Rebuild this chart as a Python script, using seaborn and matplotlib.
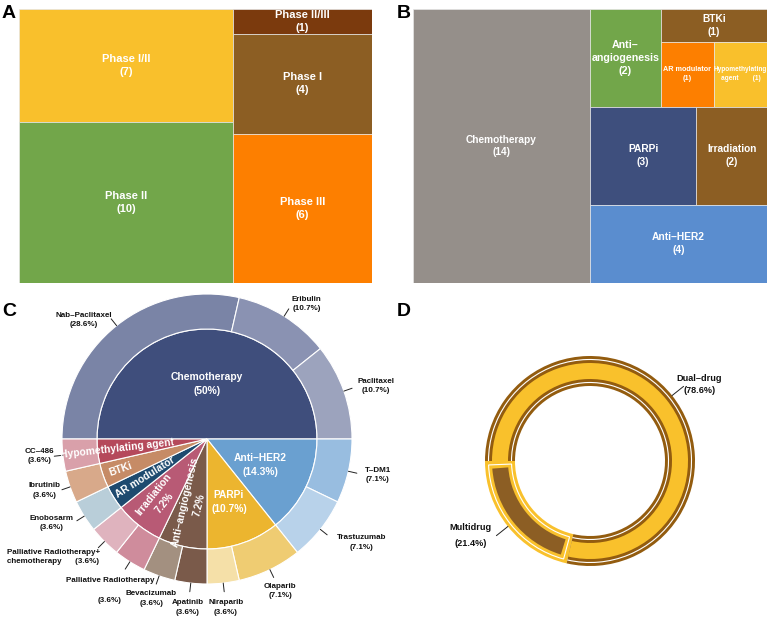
import numpy as np
import matplotlib
matplotlib.use("Agg")
import matplotlib.pyplot as plt
from matplotlib.patches import Rectangle, Arc
import seaborn as sns

sns.set_theme(style="white")
plt.rcParams['font.family'] = ['Liberation Sans', 'DejaVu Sans']

# ---------------- Panel A data ----------------
phase_labels = ["Phase I/II", "Phase II", "Phase II/III", "Phase I", "Phase III"]
phase_counts = [7, 10, 1, 4, 6]
phase_colors = ["#f9c02c", "#72a64a", "#7b3a0d", "#8c5e23", "#fd7f00"]
phase_layout = [[0, 1], [2, 3, 4]]

# ---------------- Panel B data ----------------
class_labels = ["Chemotherapy", "Anti–\nangiogenesis", "BTKi", "AR modulator",
                "Hypomethylating\nagent", "PARPi", "Irradiation", "Anti–HER2"]
class_counts = [14, 2, 1, 1, 1, 3, 2, 4]
class_colors = ["#958f8a", "#72a64a", "#8c5e23", "#fd7f00", "#f9c02c",
                "#3e4f7d", "#8c5e23", "#5a8dcf"]
class_layout = [0, [[1, [2, [3, 4]]], [5, 6], 7]]
class_fontsizes = [7.3, 7.7, 7.3, 5.2, 4.7, 7.4, 7.3, 7.4]

# ---------------- Panel C data ----------------
inner_labels = ["Chemotherapy", "Anti–HER2", "PARPi", "Anti–angiogenesis",
                "Irradiation", "AR modulator", "BTKi", "Hypomethylating agent"]
inner_counts = [14, 4, 3, 2, 2, 1, 1, 1]
inner_pct = ["(50%)", "(14.3%)", "(10.7%)", "7.2%", "7.2%", "", "", ""]
inner_colors = ["#3f4e7c", "#6aa0d0", "#ecb52f", "#7a5a4a", "#b85a75",
                "#1e4a6f", "#c68b66", "#b5495b"]
outer_labels = ["Nab–Paclitaxel", "Eribulin", "Paclitaxel", "T–DM1", "Trastuzumab",
                "Olaparib", "Niraparib", "Apatinib", "Bevacizumab",
                "Palliative Radiotherapy", "Palliative Radiotherapy+\nchemotherapy",
                "Enobosarm", "Ibrutinib", "CC–486"]
outer_counts = [8, 3, 3, 2, 2, 2, 1, 1, 1, 1, 1, 1, 1, 1]
outer_colors = ["#7a84a6", "#8a92b2", "#9ca3bd", "#98bde0", "#b8d2ea",
                "#efcc72", "#f5e0a8", "#7a5a4a", "#a39080",
                "#cf8c9c", "#dfb3be", "#b9ced9", "#d8a98a", "#d9a0aa"]

# ---------------- Panel D data ----------------
donut_labels = ["Multidrug", "Dual–drug"]
donut_counts = [6, 22]

W, H = 768, 619
fig = plt.figure(figsize=(W / 100, H / 100), dpi=100, facecolor="white")


def ax_px(x0, y0, x1, y1):
    """axes from pixel box (top-based y)"""
    return fig.add_axes([x0 / W, 1 - y1 / H, (x1 - x0) / W, (y1 - y0) / H])


def node_total(node, counts):
    if isinstance(node, int):
        return counts[node]
    return sum(node_total(n, counts) for n in node)


def layout(node, counts, x, y, w, h, split_x, out):
    if isinstance(node, int):
        out[node] = (x, y, w, h)
        return
    total = node_total(node, counts)
    pos = 0.0
    for ch in node:
        f = node_total(ch, counts) / total
        if split_x:
            layout(ch, counts, x + pos * w, y, f * w, h, False, out)
        else:
            layout(ch, counts, x, y + pos * h, w, f * h, True, out)
        pos += f


def draw_treemap(ax, labels, counts, colors, tree, fontsizes, texts):
    rects = {}
    layout(tree, counts, 0, 0, 1, 1, True, rects)
    for i, (x, y, w, h) in rects.items():
        ax.add_patch(Rectangle((x, y), w, h, facecolor=colors[i],
                               edgecolor="#e6e6e6", linewidth=0.5))
        ax.text(x + w / 2, y + h / 2, texts[i], ha="center", va="center",
                color="white", fontweight="bold", fontsize=fontsizes[i],
                linespacing=1.35)
    ax.set_xlim(0, 1)
    ax.set_ylim(1, 0)
    ax.axis("off")


# Panel A
axA = ax_px(19, 9, 372, 283)
draw_treemap(axA, phase_labels, phase_counts, phase_colors, phase_layout,
             [8] * len(phase_labels),
             [f"{l}\n({c})" for l, c in zip(phase_labels, phase_counts)])

# Panel B
b_texts = [f"{l}\n({c})" for l, c in zip(class_labels, class_counts)]
b_texts[4] = "Hypomethylating\nagent        (1)"
axB = ax_px(413, 9, 767, 283)
draw_treemap(axB, class_labels, class_counts, class_colors, class_layout,
             class_fontsizes, b_texts)

# Panel C : sunburst
axC = ax_px(0, 289, 400, 619)
cx, cy = 207, 180
R = 145
R_in = 110
wi, _ = axC.pie(inner_counts, colors=inner_colors, radius=R_in, center=(cx, cy),
                startangle=180, counterclock=False,
                wedgeprops=dict(edgecolor="white", linewidth=0.8))
wo, _ = axC.pie(outer_counts, colors=outer_colors, radius=R, center=(cx, cy),
                startangle=180, counterclock=False,
                wedgeprops=dict(width=R - R_in, edgecolor="white", linewidth=0.8))

inner_r = [0.38, 0.41, 0.46, 0.455, 0.53, 0.50, 0.63, 0.62]
inner_rot = [False, False, False, True, True, True, True, True]
for i, w in enumerate(wi):
    mid = np.deg2rad((w.theta1 + w.theta2) / 2)
    r = inner_r[i] * R
    txt = inner_labels[i] + ("\n" + inner_pct[i] if inner_pct[i] else "")
    rot = np.rad2deg(mid) + 180 if inner_rot[i] else 0
    axC.text(cx + r * np.cos(mid), cy + r * np.sin(mid), txt, ha="center",
             va="center", rotation=rot, rotation_mode="anchor", color="white",
             fontweight="bold", fontsize=7.4, linespacing=1.5)

# label placement tweaks (pixels): index -> (name dx, name dy, name ha, pct dx, pct dy)
split_labels = {9: (37, 1, "right", -8, -19)}
joined_labels = {10: (-82, 0)}
lab_kw = dict(fontsize=5.8, fontweight="bold", color="#111111", va="center")
total = sum(outer_counts)
for i, w in enumerate(wo):
    mid = np.deg2rad((w.theta1 + w.theta2) / 2)
    c, s = np.cos(mid), np.sin(mid)
    axC.plot([cx + 1.0 * R * c, cx + 1.06 * R * c],
             [cy + 1.0 * R * s, cy + 1.06 * R * s], color="#222222", lw=0.7)
    rl = 1.10 + 0.07 * max(0.0, -s)
    ha = "left" if c > 0.5 else ("right" if c < -0.5 else "center")
    pct = f"({100 * outer_counts[i] / total:.1f}%)"
    ax_, ay_ = cx + rl * R * c, cy + rl * R * s
    if i in split_labels:
        ndx, ndy, nha, pdx, pdy = split_labels[i]
        axC.text(ax_ + ndx, ay_ + ndy, outer_labels[i], ha=nha, **lab_kw)
        axC.text(ax_ + pdx, ay_ + pdy, pct, ha="center", **lab_kw)
    elif i in joined_labels:
        ndx, ndy = joined_labels[i]
        axC.text(ax_ + ndx, ay_ + ndy, outer_labels[i] + "      " + pct,
                 ha="left", multialignment="left", linespacing=1.45, **lab_kw)
    else:
        if ha == "right":
            rl -= 0.05
            ax_, ay_ = cx + rl * R * c, cy + rl * R * s
        axC.text(ax_, ay_, outer_labels[i] + "\n" + pct, ha=ha,
                 multialignment="center", linespacing=1.45, **lab_kw)
axC.set_xlim(0, 400)
axC.set_ylim(0, 330)
axC.axis("off")

# Panel D : donut
axD = ax_px(400, 289, 768, 619)
dx, dy = 590, 158
DR, DW, band = 105, 30, 7
yellow, brown_b, brown_f = "#f9c12c", "#935c0f", "#8c5e24"
w1, _ = axD.pie(donut_counts, colors=[yellow, brown_b], radius=DR, center=(dx, dy),
                startangle=180, counterclock=True,
                wedgeprops=dict(width=DW, linewidth=0))
w2, _ = axD.pie(donut_counts, colors=[brown_f, yellow], radius=DR - band,
                center=(dx, dy), startangle=180, counterclock=True,
                wedgeprops=dict(width=DW - 2 * band, linewidth=0))
da = np.rad2deg(band / (DR - DW / 2))
w2[0].set_theta1(w2[0].theta1 + da)
w2[0].set_theta2(w2[0].theta2 - da)
w3, _ = axD.pie(donut_counts, colors=["none", "none"], radius=DR - band / 2,
                center=(dx, dy), startangle=180, counterclock=True,
                wedgeprops=dict(width=DW - band, linewidth=0.8, edgecolor="white"))
w3[0].set_theta1(w3[0].theta1 + da / 2)
w3[0].set_theta2(w3[0].theta2 - da / 2)
w3[1].set_visible(False)
t1, t2 = w1[1].theta1, w1[1].theta2
for rr in (DR - band / 2, DR - DW + band / 2):
    axD.add_patch(Arc((dx, dy), 2 * rr, 2 * rr, theta1=t1, theta2=t2,
                      color="white", lw=0.8))

for i, w in enumerate(w1):
    mid = np.deg2rad((w.theta1 + w.theta2) / 2)
    c, s = np.cos(mid), np.sin(mid)
    x0, y0 = dx + DR * c, dy + DR * s
    x1, y1 = dx + 1.14 * DR * c, dy + 1.14 * DR * s
    axD.plot([x0, x1], [y0, y1], color="#222222", lw=0.7)
    pct = f"({100 * donut_counts[i] / sum(donut_counts):.1f}%)"
    if c > 0:
        axD.text(x1 + 16, y1 + 2, donut_labels[i] + "\n" + pct, ha="center",
                 va="center", fontsize=6.6, fontweight="bold", color="#111111",
                 linespacing=1.35)
    else:
        axD.text(x1 - 26, y1, donut_labels[i] + "\n" + pct, ha="center",
                 va="center", fontsize=6.6, fontweight="bold", color="#111111",
                 linespacing=2.0)
axD.set_xlim(400, 768)
axD.set_ylim(0, 330)
axD.axis("off")

# panel letters
for letter, (px, py) in zip("ABCD", [(2, 13), (397, 13), (2, 311), (397, 311)]):
    fig.text(px / W, 1 - py / H, letter, fontsize=14, fontweight="bold",
             ha="left", va="center", color="black")

fig.savefig("out.png", dpi=100, facecolor="white")
